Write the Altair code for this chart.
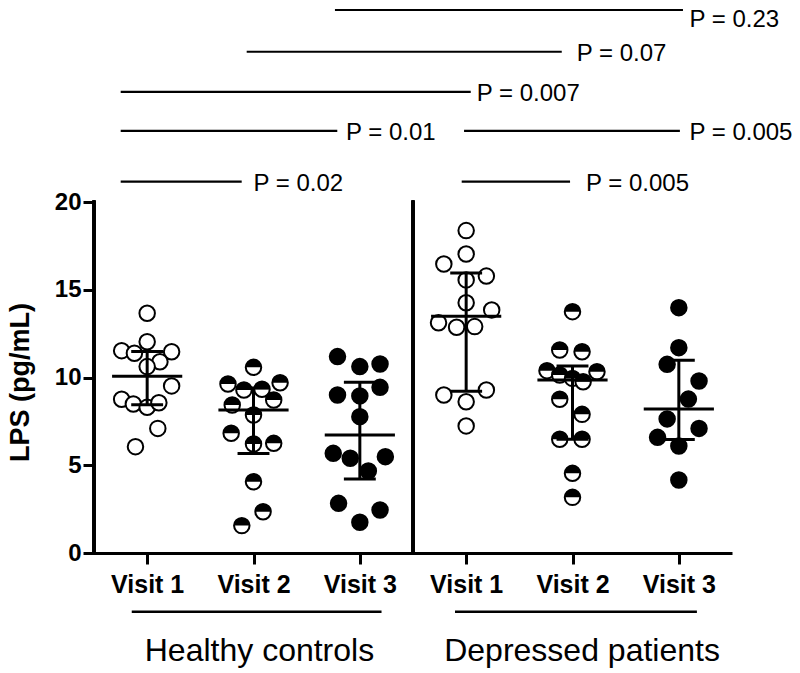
import altair as alt
import pandas as pd
import numpy as np

FONT = "Liberation Sans"

# ---------------- data (LPS, pg/mL) ----------------
# x position of each column: 1-3 healthy controls visits, 4-6 depressed patients visits
hc_v1 = [13.66, 12.04, 11.53, 11.38, 11.47, 10.90, 10.62, 9.52, 8.76, 8.49, 8.30, 8.56, 7.10, 6.06]
hc_v1_dx = [0, 0, -0.24, -0.12, 0.23, 0.12, 0, 0.23, -0.24, -0.13, 0, 0.11, 0.10, -0.11]

hc_v2 = [10.58, 9.63, 9.29, 9.33, 9.70, 8.43, 8.72, 7.86, 6.82, 6.21, 6.25, 4.06, 2.35, 1.56]
hc_v2_dx = [0, -0.24, -0.09, 0.08, 0.25, -0.20, 0.19, 0, -0.21, 0, 0.19, 0, 0.09, -0.11]

hc_v3 = [11.19, 10.62, 10.77, 9.44, 9.00, 8.95, 7.77, 5.68, 5.40, 5.49, 4.67, 2.83, 2.45, 1.75]
hc_v3_dx = [-0.21, 0, 0.19, 0.19, -0.21, 0, 0, -0.25, -0.09, 0.24, 0.08, -0.20, 0.19, 0]

dp_v1 = [18.37, 17.04, 16.47, 15.78, 15.56, 14.26, 13.85, 13.12, 12.86, 12.90, 9.00, 9.29, 8.62, 7.24]
dp_v1_dx = [0, 0, -0.21, 0.19, 0, 0, 0.24, -0.26, -0.09, 0.08, -0.21, 0.19, 0, 0]

dp_v2 = [13.75, 11.57, 11.47, 10.39, 10.33, 10.14, 9.95, 9.76, 8.76, 7.90, 6.48, 6.48, 4.54, 3.17]
dp_v2_dx = [0, -0.12, 0.09, -0.24, 0.23, -0.12, 0, 0.10, -0.12, 0.09, -0.12, 0.09, 0, 0]

dp_v3 = [13.98, 11.70, 10.75, 9.80, 8.77, 7.64, 7.10, 6.59, 6.10, 4.16]
dp_v3_dx = [0, 0, -0.11, 0.19, 0.09, -0.11, 0.19, -0.20, 0, 0]

series = [
    (1, hc_v1, hc_v1_dx, "open"),
    (2, hc_v2, hc_v2_dx, "half"),
    (3, hc_v3, hc_v3_dx, "filled"),
    (4, dp_v1, dp_v1_dx, "open"),
    (5, dp_v2, dp_v2_dx, "half"),
    (6, dp_v3, dp_v3_dx, "filled"),
]

# significance brackets
ann_x1 = [2.766, 1.936, 0.751, 0.751, 3.980, 0.751, 3.958]
ann_x2 = [6.039, 4.899, 4.043, 2.788, 6.010, 1.889, 4.977]
ann_y = [30.94, 28.56, 26.28, 24.05, 24.05, 21.16, 21.16]
ann_ty = [30.48, 28.56, 26.28, 24.05, 24.05, 21.16, 21.16]
ann_tx = [6.10, 5.04, 4.10, 2.87, 6.10, 2.00, 5.127]
ann_label = ["P = 0.23", "P = 0.07", "P = 0.007", "P = 0.01", "P = 0.005", "P = 0.02", "P = 0.005"]

# group labels
groups = ["Healthy controls", "Depressed patients"]
grp_x1 = [0.855, 3.895]
grp_x2 = [3.204, 6.170]
grp_tx = [2.056, 5.090]
grp_line_y = -3.345
grp_text_y = -6.15

# ---------------- tables ----------------
rows = []
for pos, vals, dxs, style in series:
    for v, d in zip(vals, dxs):
        rows.append({"pos": pos, "value": v, "dx": d, "style": style})
pts = pd.DataFrame(rows)

stats = []
for pos, vals, dxs, style in series:
    q1, med, q3 = np.percentile(vals, [25, 50, 75], method="weibull")
    stats.append({"pos": pos, "q1": q1, "med": med, "q3": q3})
st = pd.DataFrame(stats)

ann = pd.DataFrame({"x1": ann_x1, "x2": ann_x2, "y": ann_y, "ty": ann_ty,
                    "tx": ann_tx, "label": ann_label})
grp = pd.DataFrame({"x1": grp_x1, "x2": grp_x2, "tx": grp_tx, "label": groups,
                    "ly": [grp_line_y] * 2, "ty": [grp_text_y] * 2})

# ---------------- scales / axes ----------------
xs = alt.Scale(domain=[0.5, 6.5], nice=False, zero=False)
ys = alt.Scale(domain=[0, 545 / 17.55], nice=False, zero=False)

x_axis = alt.Axis(
    values=[1, 2, 3, 4, 5, 6],
    labelExpr="'Visit ' + ((datum.value - 1) % 3 + 1)",
    title=None, grid=False, labelAngle=0, labelFlush=False,
    domain=True, domainColor="black", domainWidth=3,
    ticks=True, tickColor="black", tickWidth=3, tickSize=11,
    labelFont=FONT, labelFontSize=25, labelFontWeight="bold", labelColor="black",
    labelPadding=8,
)
y_axis = alt.Axis(
    values=[0, 5, 10, 15, 20], grid=False, domain=False,
    ticks=True, tickColor="black", tickWidth=3, tickSize=11,
    labelFont=FONT, labelFontSize=24, labelFontWeight="bold", labelColor="black",
    labelPadding=2,
    title="LPS (pg/mL)", titleFont=FONT, titleFontSize=27, titleFontWeight="bold",
    titleColor="black", titleAngle=270, titleAlign="center", titleBaseline="alphabetic",
    titleX=-66, titleY=374,
)


def X(field):
    return alt.X(field, type="quantitative", scale=xs, axis=x_axis)


def Y(field):
    return alt.Y(field, type="quantitative", scale=ys, axis=y_axis)


SIZE = 240

base_pts = alt.Chart(pts).transform_calculate(xj="datum.pos + datum.dx")

open_pts = base_pts.transform_filter("datum.style == 'open'").mark_point(
    shape="circle", filled=True, fill="white", stroke="black", strokeWidth=2, size=SIZE, opacity=1
).encode(x=X("xj"), y=Y("value"))

filled_pts = base_pts.transform_filter("datum.style == 'filled'").mark_point(
    shape="circle", filled=True, fill="black", stroke="black", strokeWidth=2, size=SIZE, opacity=1
).encode(x=X("xj"), y=Y("value"))

half_base = base_pts.transform_filter("datum.style == 'half'")
half_circ = half_base.mark_point(
    shape="circle", filled=True, fill="white", stroke="black", strokeWidth=2, size=SIZE, opacity=1
).encode(x=X("xj"), y=Y("value"))
half_top = half_base.mark_point(
    shape="M -1 0 A 1 1 0 0 1 1 0 Z", filled=True, fill="black", strokeWidth=0, size=SIZE, opacity=1
).encode(x=X("xj"), y=Y("value"))

# median and interquartile range
sb = alt.Chart(st).transform_calculate(
    ma="datum.pos - 0.33", mb="datum.pos + 0.33",
    ca="datum.pos - 0.15", cb="datum.pos + 0.15",
)
med_rule = sb.mark_rule(color="black", strokeWidth=3).encode(
    x=X("ma"), x2="mb:Q", y=Y("med"))
whisk = sb.mark_rule(color="black", strokeWidth=3).encode(
    x=X("pos"), y=Y("q1"), y2="q3:Q")
cap_lo = sb.mark_rule(color="black", strokeWidth=3).encode(
    x=X("ca"), x2="cb:Q", y=Y("q1"))
cap_hi = sb.mark_rule(color="black", strokeWidth=3).encode(
    x=X("ca"), x2="cb:Q", y=Y("q3"))

# y axis line (0 to 20) and group divider
yline = alt.Chart(st).mark_rule(color="black", strokeWidth=3, strokeCap="square").encode(
    x=alt.value(0),
    y=alt.YDatum(0, type="quantitative", scale=ys, axis=y_axis),
    y2=alt.Y2Datum(20),
)
divider = alt.Chart(st).mark_rule(color="black", strokeWidth=3, strokeCap="square").encode(
    x=alt.XDatum(3.5, type="quantitative", scale=xs, axis=x_axis),
    y=alt.YDatum(0, type="quantitative", scale=ys, axis=y_axis),
    y2=alt.Y2Datum(20),
)

# significance annotations
ann_rules = alt.Chart(ann).mark_rule(color="black", strokeWidth=2.2).encode(
    x=X("x1"), x2="x2:Q", y=Y("y"))
ann_text = alt.Chart(ann).mark_text(
    font=FONT, fontSize=24, color="black", align="left", baseline="middle", dy=2
).encode(x=X("tx"), y=Y("ty"), text="label:N")

# group underlines and labels
grp_rules = alt.Chart(grp).mark_rule(color="black", strokeWidth=2.5).encode(
    x=X("x1"), x2="x2:Q", y=Y("ly"))
grp_text = alt.Chart(grp).mark_text(
    font=FONT, fontSize=32, color="black", align="center", baseline="alphabetic"
).encode(x=X("tx"), y=Y("ty"), text="label:N")

chart = alt.layer(
    open_pts, filled_pts, half_circ, half_top,
    med_rule, whisk, cap_lo, cap_hi,
    yline, divider, ann_rules, ann_text, grp_rules, grp_text,
).properties(
    width=638, height=545,
    autosize=alt.AutoSizeParams(type="none"),
    padding={"left": 86, "top": 0, "right": 60, "bottom": 120},
    background="white",
).configure_view(stroke=None)

chart.save("out.html", embed_options={"renderer": "svg", "actions": False})
